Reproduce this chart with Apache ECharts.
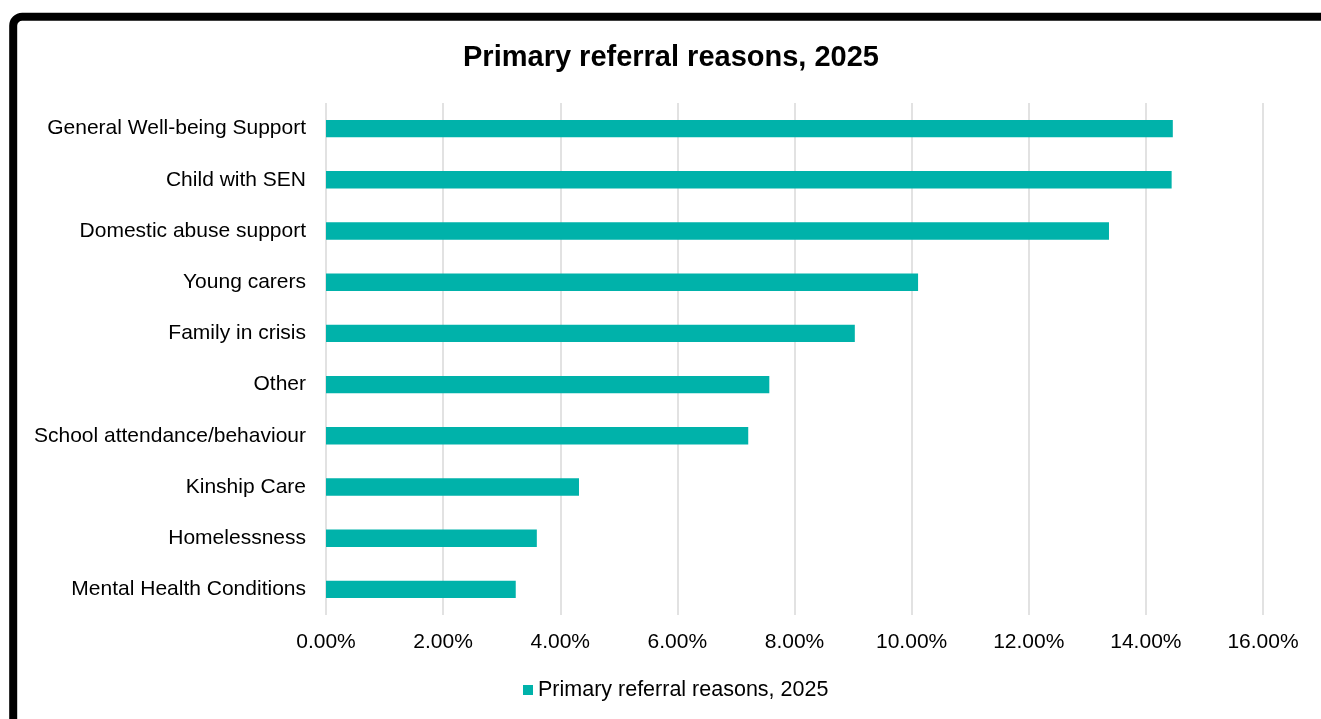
<!DOCTYPE html>
<html>
<head>
<meta charset="utf-8">
<script src="https://cdn.jsdelivr.net/npm/echarts@6/dist/echarts.min.js"></script>
<style>
  html, body { margin: 0; padding: 0; background: #ffffff; }
  #chart { width: 1321px; height: 719px; }
</style>
</head>
<body>
<div id="chart"></div>
<script>
// Referral reasons, top to bottom
const categories = [
  'General Well-being Support',
  'Child with SEN',
  'Domestic abuse support',
  'Young carers',
  'Family in crisis',
  'Other',
  'School attendance/behaviour',
  'Kinship Care',
  'Homelessness',
  'Mental Health Conditions'
];

// Share of referrals, in percent
const shares = [14.46, 14.44, 13.37, 10.11, 9.03, 7.57, 7.21, 4.32, 3.60, 3.24];

const seriesName = 'Primary referral reasons, 2025';
const chartTitle = 'Primary referral reasons, 2025';

const FONT = '"Liberation Sans", Arial, sans-serif';

const chart = echarts.init(document.getElementById('chart'), null, { renderer: 'canvas' });

chart.setOption({
  backgroundColor: '#ffffff',
  animation: false,
  title: {
    text: chartTitle,
    left: 671,
    top: 43,
    padding: 0,
    textAlign: 'center',
    textStyle: { fontFamily: FONT, fontSize: 29, fontWeight: 'bold', color: '#000000' }
  },
  legend: {
    data: [seriesName],
    left: 523,
    top: 679,
    padding: 0,
    icon: 'rect',
    itemWidth: 10,
    itemHeight: 10,
    textStyle: { fontFamily: FONT, fontSize: 21.5, color: '#000000' }
  },
  grid: { left: 326, right: 58, top: 103, bottom: 104, containLabel: false },
  xAxis: {
    type: 'value',
    min: 0,
    max: 16,
    interval: 2,
    axisLine: { show: false },
    axisTick: { show: false },
    axisLabel: {
      formatter: v => v.toFixed(2) + '%',
      fontFamily: FONT,
      fontSize: 21,
      color: '#000000',
      margin: 17
    },
    splitLine: { show: true, lineStyle: { color: '#d9d9d9', width: 1.5 } }
  },
  yAxis: {
    type: 'category',
    data: categories,
    inverse: true,
    axisLine: { show: false },
    axisTick: { show: false },
    axisLabel: { fontFamily: FONT, fontSize: 21, color: '#000000', margin: 20, padding: [3, 0, 0, 0] }
  },
  series: [{
    name: seriesName,
    type: 'bar',
    data: shares,
    barWidth: '34%',
    itemStyle: { color: '#00b2aa' }
  }],
  graphic: [{
    type: 'rect',
    silent: true,
    z: 100,
    shape: { x: 13.2, y: 16.8, width: 1400, height: 800, r: 9 },
    style: { fill: 'none', stroke: '#000000', lineWidth: 8 }
  }]
});
</script>
</body>
</html>
